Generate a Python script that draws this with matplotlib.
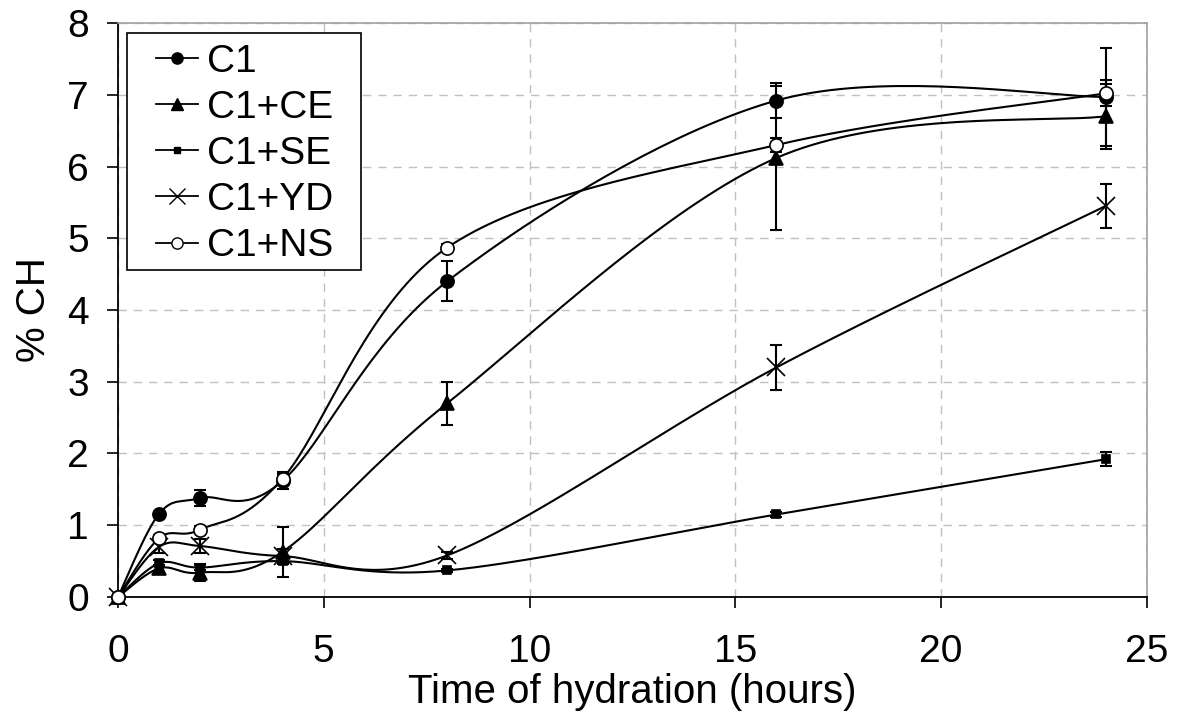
import numpy as np
import matplotlib
matplotlib.use('Agg')
import matplotlib.pyplot as plt
from matplotlib.lines import Line2D
from matplotlib.patches import Rectangle

plt.rcParams['font.family'] = ['Liberation Sans', 'DejaVu Sans']

# ─── DATOS ────────────────────────────────────────────────────────────────────
horas = [0, 1, 2, 4, 8, 16, 24]

series = ['C1', 'C1+CE', 'C1+SE', 'C1+YD', 'C1+NS']

ch_c1 = [0.0, 1.16, 1.38, 1.62, 4.40, 6.92, 6.97]
ch_ce = [0.0, 0.40, 0.34, 0.63, 2.70, 6.12, 6.70]
ch_se = [0.0, 0.47, 0.41, 0.50, 0.37, 1.15, 1.92]
ch_yd = [0.0, 0.70, 0.71, 0.57, 0.58, 3.20, 5.45]
ch_ns = [0.0, 0.82, 0.94, 1.65, 4.87, 6.30, 7.02]

err_c1 = [0.0, 0.03, 0.11, 0.12, 0.28, 0.25, 0.68]
err_ce = [0.0, 0.05, 0.12, 0.35, 0.30, 1.00, 0.45]
err_se = [0.0, 0.04, 0.04, 0.04, 0.02, 0.03, 0.10]
err_yd = [0.0, 0.08, 0.10, 0.10, 0.05, 0.31, 0.31]
err_ns = [0.0, 0.04, 0.05, 0.06, 0.05, 0.10, 0.18]

# ─── ESTILO ───────────────────────────────────────────────────────────────────
estilos = {
    'C1':    dict(marker='o', ms=9.5, mfc='black'),
    'C1+CE': dict(marker='^', ms=10, mfc='black'),
    'C1+SE': dict(marker='s', ms=5.5, mfc='black'),
    'C1+YD': dict(marker='x', ms=13, mfc='black'),
    'C1+NS': dict(marker='o', ms=9.5, mfc='white'),
}
datos = {'C1': (ch_c1, err_c1), 'C1+CE': (ch_ce, err_ce), 'C1+SE': (ch_se, err_se),
         'C1+YD': (ch_yd, err_yd), 'C1+NS': (ch_ns, err_ns)}

# escala aproximada en pixeles por unidad (para el suavizado tipo Excel)
SX, SY = 41.2, 71.8


def suavizar(x, y, n=40):
    """Curva Bezier tipo Catmull-Rom (linea suavizada de Excel)."""
    px = np.array(x, float) * SX
    py = np.array(y, float) * SY
    pts = np.column_stack([px, py])
    m = len(pts)
    out = []
    for i in range(m - 1):
        p0 = pts[i - 1] if i > 0 else pts[i]
        p1 = pts[i]
        p2 = pts[i + 1]
        p3 = pts[i + 2] if i + 2 < m else pts[i + 1]
        c1 = p1 + (p2 - p0) / 6.0
        c2 = p2 - (p3 - p1) / 6.0
        t = np.linspace(0, 1, n)[:, None]
        seg = ((1 - t) ** 3) * p1 + 3 * ((1 - t) ** 2) * t * c1 + 3 * (1 - t) * t ** 2 * c2 + t ** 3 * p2
        out.append(seg if i == 0 else seg[1:])
    out = np.vstack(out)
    return out[:, 0] / SX, out[:, 1] / SY


fig = plt.figure(figsize=(11.86, 7.26), dpi=100)
ax = fig.add_axes([0.0995, 0.1777, 0.8675, 0.7906])

for nombre in series:
    y, e = datos[nombre]
    xs, ys = suavizar(horas, y)
    ax.plot(xs, ys, color='black', lw=1.5, zorder=3, clip_on=False)
    e_plot = [v if v > 0 else np.nan for v in e]
    ax.errorbar(horas, y, yerr=e_plot, fmt='none', ecolor='black',
                elinewidth=1.5, capsize=4, capthick=1.5, zorder=4)
    st = estilos[nombre]
    ax.plot(horas, y, linestyle='none', marker=st['marker'], ms=st['ms'],
            mfc=st['mfc'], mec='black', mew=1.2, zorder=5, clip_on=False)

ax.set_xlim(0, 25)
ax.set_ylim(0, 8)
ax.set_xticks(range(0, 26, 5))
ax.set_yticks(range(0, 9))
ax.grid(True, color='#c0c0c0', linestyle=(0, (6, 5)), linewidth=1.0)
ax.set_axisbelow(True)

for lado in ['top', 'right']:
    ax.spines[lado].set_color('#a0a0a0')
    ax.spines[lado].set_linewidth(1.2)
for lado in ['left', 'bottom']:
    ax.spines[lado].set_color('black')
    ax.spines[lado].set_linewidth(1.3)

ax.tick_params(direction='out', length=8, width=1.2, labelsize=28)
ax.tick_params(axis='x', pad=19)
ax.tick_params(axis='y', pad=13)
ax.set_xlabel('Time of hydration (hours)', fontsize=29, labelpad=2)
ax.set_ylabel('% CH', fontsize=29, labelpad=10)

# caja de la leyenda (mas ancha que alta, como en Excel)
ax.add_patch(Rectangle((0.0087, 0.5697), 0.2275, 0.4129, transform=ax.transAxes,
                       facecolor='white', edgecolor='black', lw=1.2,
                       zorder=6, clip_on=False))
handles = [Line2D([0], [0], color='black', lw=1.3, marker=estilos[s]['marker'],
                  ms=estilos[s]['ms'] * 0.85, mfc=estilos[s]['mfc'], mec='black')
           for s in series]
leg = ax.legend(handles, series, loc='upper left', fontsize=28, frameon=False,
                handlelength=1.08, handletextpad=0.23, borderpad=0,
                labelspacing=0.26, borderaxespad=0,
                bbox_to_anchor=(0.0369, 0.964))
leg.set_zorder(7)

fig.savefig('out.png', dpi=100)
